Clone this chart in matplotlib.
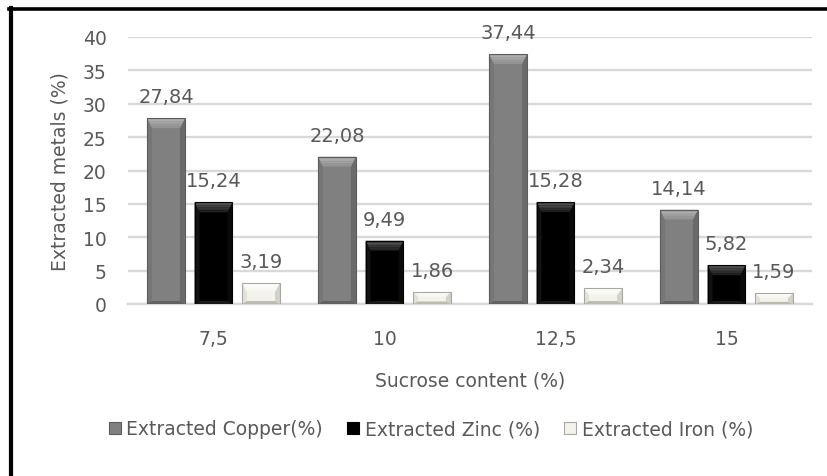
import matplotlib
matplotlib.use('Agg')
import matplotlib.pyplot as plt
from matplotlib.patches import Polygon, Patch
from matplotlib.lines import Line2D
from matplotlib.colors import to_rgb
import numpy as np

# sucrose content groups and extracted metal percentages
categories = ['7,5', '10', '12,5', '15']
copper = [27.84, 22.08, 37.44, 14.14]
zinc = [15.24, 9.49, 15.28, 5.82]
iron = [3.19, 1.86, 2.34, 1.59]
series_names = ['Extracted Copper(%)', 'Extracted Zinc (%)', 'Extracted Iron (%)']

TXT = '#595959'
GRID = '#d9d9d9'

# face, top bevel, left side, right side, bottom, edge
styles = [
    ('#808080', '#b4b4b4', '#767676', '#6a6a6a', '#626262', '#5c5c5c'),
    ('#000000', '#5a5a5a', '#121212', '#0a0a0a', '#1a1a1a', '#000000'),
    ('#f3f3ec', '#ffffff', '#e2e2da', '#d2d2ca', '#bcbcb4', '#a8a8a2'),
]


def mix(c1, c2, t):
    a, b = np.array(to_rgb(c1)), np.array(to_rgb(c2))
    return tuple(a + (b - a) * t)


plt.rcParams['font.family'] = 'DejaVu Sans'

W, H = 828, 477
fig = plt.figure(figsize=(W / 100, H / 100), dpi=100)
ax = fig.add_axes([128 / W, (H - 305) / H, 684 / W, 267 / H])

ax.set_xlim(-0.5, len(categories) - 0.5)
ax.set_ylim(0, 40)
ax.set_yticks(np.arange(0, 41, 5))
ax.set_xticks(np.arange(len(categories)))
ax.set_xticklabels(categories)
ax.yaxis.grid(True, color=GRID, linewidth=1.7)
ax.set_axisbelow(True)
for s in ['top', 'right', 'left']:
    ax.spines[s].set_visible(False)
ax.spines['bottom'].set_color(GRID)
ax.spines['bottom'].set_linewidth(1.7)
ax.tick_params(axis='both', length=0, labelsize=13.5, labelcolor=TXT)
ax.tick_params(axis='x', pad=18)
ax.tick_params(axis='y', pad=15.5)

# pixel -> data sizes for the bevel
px_x = len(categories) / 684
px_y = 40 / 267

ind = np.arange(len(categories))
width = 0.222
offsets = [-0.278, 0, 0.278]
for vals, off, st in zip([copper, zinc, iron], offsets, styles):
    face, top, left, right, bottom, edge = st
    bars = ax.bar(ind + off, vals, width, color=face, edgecolor='none', zorder=3)
    for b, v in zip(bars, vals):
        x0, y0 = b.get_x(), b.get_y()
        x1, y1 = x0 + b.get_width(), y0 + b.get_height()
        h_px = b.get_height() / px_y
        bx = 5 * px_x
        by = min(10, h_px * 0.42) * px_y
        bb = min(3, h_px * 0.2) * px_y
        sides = [
            ([(x0, y0), (x0, y1), (x0 + bx, y1 - by), (x0 + bx, y0 + bb)], left),
            ([(x1, y0), (x1, y1), (x1 - bx, y1 - by), (x1 - bx, y0 + bb)], right),
            ([(x0, y0), (x1, y0), (x1 - bx, y0 + bb), (x0 + bx, y0 + bb)], bottom),
        ]
        for pts, c in sides:
            ax.add_patch(Polygon(pts, closed=True, facecolor=c, edgecolor='none', zorder=4))
        # top facet, shaded from the edge down towards the face colour
        n = 6
        for k in range(n):
            t0, t1 = k / n, (k + 1) / n
            pts = [(x0 + bx * t0, y1 - by * t0), (x1 - bx * t0, y1 - by * t0),
                   (x1 - bx * t1, y1 - by * t1), (x0 + bx * t1, y1 - by * t1)]
            ax.add_patch(Polygon(pts, closed=True, facecolor=mix(top, face, 0.75 * t0),
                                 edgecolor='none', zorder=4))
        ax.add_patch(Polygon([(x0, y0), (x0, y1), (x1, y1), (x1, y0)], closed=True,
                             facecolor='none', edgecolor=edge, linewidth=0.8, zorder=5))
        ax.annotate(f'{v:.2f}'.replace('.', ','), xy=(b.get_x() + b.get_width() / 2, y1),
                    xytext=(0, 11.5), textcoords='offset points', ha='center',
                    va='baseline', fontsize=14, color=TXT, zorder=6)

ax.set_xlabel('Sucrose content (%)', fontsize=13.5, color=TXT)
ax.xaxis.set_label_coords(0.5, -0.248)
ax.set_ylabel('Extracted metals (%)', fontsize=13.5, color=TXT)
ax.yaxis.set_label_coords(-0.085, 0.5)

handles = [Patch(facecolor=st[0], edgecolor=st[5], linewidth=0.8) for st in styles]
fig.legend(handles, series_names, loc='center', bbox_to_anchor=(431 / W, 1 - 430 / H),
           ncol=3, frameon=False, fontsize=13.5, labelcolor=TXT,
           handlelength=0.62, handleheight=0.62, handletextpad=0.3, columnspacing=1.3)

# black frame on the top and left edges
fig.add_artist(Line2D([9 / W, 1.0], [1 - 10 / H, 1 - 10 / H], color='black',
                      linewidth=2.6, transform=fig.transFigure))
fig.add_artist(Line2D([10.5 / W, 10.5 / W], [0.0, 1 - 9 / H], color='black',
                      linewidth=3.0, transform=fig.transFigure))

fig.savefig('out.png', dpi=100, facecolor='white')
